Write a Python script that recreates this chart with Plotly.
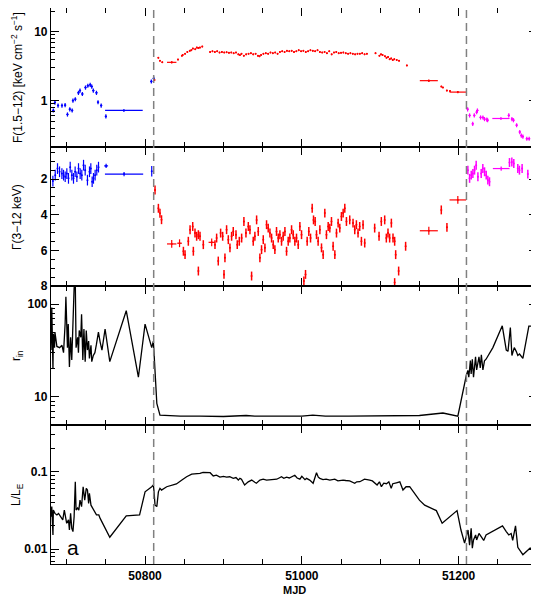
import plotly.graph_objects as go
from plotly.subplots import make_subplots

# ---------------- Panel 1: F(1.5-12) ----------------
f_blue_mjd = [50683, 50685, 50689, 50694, 50698, 50701, 50704, 50707, 50708, 50711, 50715, 50717,
              50720, 50724, 50727, 50730, 50732, 50734, 50738, 50740, 50744, 50750, 50808, 50811]
f_blue_val = [0.72, 0.94, 0.85, 0.85, 0.86, 0.63, 0.75, 0.72, 1.0, 1.05, 1.3, 1.4,
              1.25, 1.55, 1.65, 1.7, 1.6, 1.4, 1.3, 0.95, 0.85, 0.59, 1.9, 2.1]
f_blue_bin_mjd = [50773]
f_blue_bin_val = [0.72]
f_blue_bin_err = [24]

f_red_mjd = [50812, 50817, 50819, 50822, 50842, 50847, 50848, 50851, 50854, 50857, 50859, 50861,
             50864, 50866, 50868, 50870, 50873,
             50883, 50886, 50889, 50892, 50895, 50898, 50901, 50904, 50907, 50910, 50913, 50916,
             50919, 50921, 50923, 50926, 50929, 50932, 50935, 50938, 50941, 50944, 50946, 50948,
             50951, 50954, 50957, 50960, 50963, 50966, 50969, 50972, 50975, 50978, 50981, 50984,
             50987, 50990, 50993, 50996, 50999, 51002, 51005, 51008, 51011, 51014, 51017, 51020,
             51023, 51026, 51029, 51032, 51035, 51038, 51041, 51044, 51047, 51050, 51053, 51056,
             51059, 51062, 51065, 51068, 51071, 51074, 51077, 51080, 51083,
             51094, 51099, 51101, 51103, 51106, 51108, 51110, 51112, 51114, 51116, 51118, 51121,
             51124, 51134, 51178, 51180, 51185, 51189]
f_red_val = [2.0, 4.2, 3.8, 3.6, 3.95, 4.5, 4.6, 4.8, 5.1, 5.3, 5.4, 5.7,
             5.6, 5.9, 5.8, 5.9, 6.1,
             5.1, 5.2, 5.1, 5.2, 5.0, 5.1, 5.0, 5.05, 4.95, 5.0, 4.9, 5.0,
             4.7, 4.6, 4.8, 4.5, 4.7, 4.8, 4.9, 4.7, 4.8, 4.5, 4.4, 4.6,
             4.8, 4.9, 4.8, 5.0, 4.9, 5.0, 4.8, 5.1, 5.2, 5.1, 5.3, 5.2,
             5.3, 5.1, 5.2, 5.4, 5.2, 5.3, 5.1, 5.2, 5.4, 5.3, 5.2, 5.4,
             5.1, 5.0, 5.1, 4.9, 5.2, 4.7, 5.0, 5.1, 4.9, 4.95, 5.0, 4.9,
             4.8, 4.9, 4.8, 4.7, 4.8, 4.8, 4.9, 4.7, 4.8,
             4.9, 4.5, 4.7, 4.6, 4.4, 4.2, 4.3, 4.0, 4.1, 3.9, 4.0, 3.9,
             3.8, 3.25, 1.6, 1.55, 1.4, 1.38]
f_red_bin_mjd = [50834, 51162, 51199]
f_red_bin_val = [3.6, 1.95, 1.33]
f_red_bin_err = [6, 11.5, 10.6]

f_mag_mjd = [51211.5, 51214, 51218, 51220, 51223, 51224, 51228, 51231, 51233, 51236, 51237,
             51264, 51268, 51270, 51274, 51278, 51280, 51282, 51287, 51290]
f_mag_val = [0.75, 0.61, 0.46, 0.61, 0.68, 0.72, 0.57, 0.57, 0.54, 0.53, 0.52,
             0.61, 0.54, 0.52, 0.44, 0.35, 0.31, 0.30, 0.28, 0.28]
f_mag_bin_mjd = [51254]
f_mag_bin_val = [0.55]
f_mag_bin_err = [11]

# ---------------- Panel 2: photon index ----------------
g_blue_mjd = [50682.4, 50685.4, 50688.3, 50690.9, 50693.9, 50696, 50698.1, 50700.2, 50702.3,
              50704.5, 50706.6, 50708.7, 50710.8, 50713, 50715.1, 50717.2, 50719.3, 50721.5,
              50723.6, 50726.5, 50729.1, 50730.8, 50732.5, 50734.2, 50736.3, 50738.4, 50740.6,
              50808.5]
g_blue_val = [2.11, 1.78, 1.41, 1.59, 1.69, 1.78, 1.87, 1.69, 1.96,
              1.33, 1.78, 1.96, 1.59, 1.87, 1.41, 1.69, 1.78, 1.22,
              1.5, 2.06, 1.59, 1.41, 2.15, 1.96, 1.78, 1.5, 1.33,
              1.56]
g_blue_bin_mjd = [50750.3, 50773.2]
g_blue_bin_val = [1.26, 1.72]
g_blue_bin_err = [2.5, 24.4]

g_red_mjd = [50812.7, 50817, 50819, 50821,
             50848.9, 50851, 50855.2, 50857.4, 50860.8, 50861.6, 50863.7, 50865.8, 50868, 50868,
             50870.1, 50874.3, 50889.2, 50891.3, 50893.4, 50896.4, 50899, 50900.7, 50901.9,
             50904, 50906.2, 50908.3, 50910.4, 50912.5, 50916, 50917.6, 50920.2, 50923.2,
             50926.1, 50928.7, 50931.7, 50933.8, 50935.9, 50938, 50940.1, 50942.3, 50944.4,
             50946.5, 50948.6, 50950.8, 50952.9, 50955, 50957.1, 50959.3, 50961.4, 50963.5,
             50965.6, 50967.7, 50969.9, 50972, 50974.1, 50976.2, 50978.4, 50980.5, 50982.6,
             50984.7, 50986.9, 50989, 50991.1, 50993.2, 50995.4, 50997.5, 50999.6, 51002.6,
             51004.7, 51006.8, 51008.9, 51011.1, 51013.2, 51014.9, 51017, 51018.7, 51020.8,
             51023, 51025.1, 51027.2, 51029.3, 51031.4, 51033.6, 51035.7, 51037.8, 51039.9,
             51042.1, 51044.2, 51046.3, 51048.4, 51050.5, 51052.7, 51054.8, 51056.9,
             51061.1, 51065.3, 51067.5, 51069.6, 51071.7, 51073.8, 51076, 51078.1, 51080.2,
             51092.9, 51098.5, 51101.4, 51105.7, 51107.8, 51109.9, 51112, 51114.2, 51116.3,
             51118.4, 51119.7, 51123.5, 51118.4, 51132.4, 51177.9, 51185.1]
g_red_val = [2.61, 3.64, 3.92, 4.28,
             6.05, 6.24, 5.49, 4.84, 4.66, 6.05, 5.03, 5.21, 5.12, 7.16,
             5.21, 5.68, 5.68, 5.31, 6.6, 5.03, 5.21, 7.35, 6.42,
             4.84, 5.4, 5.86, 5.21, 4.94, 5.12, 5.68, 5.49, 5.31,
             4.38, 5.03, 4.66, 4.84, 7.44, 5.49, 5.21, 4.29, 4.94,
             6.42, 5.96, 5.4, 5.86, 4.56, 4.75, 5.03, 5.31, 5.68,
             5.96, 4.94, 5.31, 5.12, 5.49, 5.21, 4.94, 6.05, 5.49,
             5.31, 4.84, 5.12, 5.49, 5.31, 5.68, 4.66, 5.12, 7.72,
             7.35, 5.49, 4.94, 5.31, 3.64, 4.29, 4.38, 5.12, 5.49,
             4.84, 5.86, 6.24, 3.91, 5.12, 4.66, 4.75, 4.38, 5.77,
             6.24, 5.03, 4.47, 4.75, 4.1, 3.91, 3.64, 4.38,
             4.29, 4.47, 4.84, 4.56, 5.03, 4.66, 5.49, 4.56, 5.59,
             4.75, 5.21, 4.38, 4.29, 5.31, 5.03, 5.31, 4.47, 5.31,
             5.49, 6.24, 7.16, 7.81, 5.77, 3.73, 4.71]
g_red_bin_mjd = [50834, 50844, 50885, 51162, 51199]
g_red_bin_val = [5.64, 5.6, 5.55, 4.9, 3.17]
g_red_bin_err = [6, 3, 4, 11.5, 10.6]

g_mag_mjd = [51211.8, 51214, 51216.1, 51218.2, 51220.3, 51222.4, 51224.6, 51228.8, 51230.9,
             51233.1, 51235.2, 51237.3, 51239.4, 51264.9, 51267.9, 51270.4, 51275.5, 51277.6,
             51281, 51288.3]
g_mag_val = [1.5, 1.96, 1.78, 1.69, 1.5, 1.22, 1.87, 1.69, 1.41,
             1.59, 1.78, 2.06, 2.15, 1.07, 1.04, 1.13, 1.41, 1.5,
             1.41, 1.72]
g_mag_bin_mjd = [51254.3]
g_mag_bin_val = [1.41]
g_mag_bin_err = [10.6]

# ---------------- Panel 3: r_in ----------------
r_mjd = [50680, 50681, 50682.5, 50683, 50684.5, 50685, 50687.5, 50691, 50694, 50696, 50698,
         50699, 50701, 50702, 50703.5, 50705, 50706.5, 50708, 50709.5, 50711, 50712, 50714,
         50715, 50716, 50718, 50719, 50720.6, 50722, 50723.6, 50725, 50726.5, 50728, 50729,
         50731, 50732, 50734, 50736, 50738, 50740.5, 50742.7, 50745, 50749, 50755, 50776,
         50791.5, 50800, 50808.5, 50810.6, 50815, 50819, 50845, 50870, 50900, 50929, 50940,
         50970, 51000, 51014, 51030, 51060, 51100, 51150, 51180, 51199, 51209.8, 51211.8,
         51213, 51215, 51216, 51217.5, 51219, 51220, 51221.6, 51223, 51224.6, 51226, 51227.6,
         51229, 51231, 51233, 51235, 51243.7, 51255.7, 51260.8, 51263, 51266, 51268, 51271,
         51273.5, 51275.5, 51277.7, 51282, 51289.6, 51297, 51299]
r_val = [32, 92, 20, 48, 34, 50, 35, 34, 36, 30, 61,
         120, 34, 61, 21, 44, 25, 78, 150, 170, 34, 44,
         30, 52, 44, 78, 25, 54, 24, 52, 32, 40, 26,
         36, 24, 28, 30, 37, 50, 39, 32, 54, 24, 85,
         16.3, 61, 34, 40, 8.5, 6.35, 6.2, 6.2, 6.15, 6.3, 6.2,
         6.2, 6.2, 6.35, 6.2, 6.2, 6.2, 6.3, 6.7, 6.2, 17, 19.3,
         16.3, 24.7, 17.7, 25.5, 16.3, 22, 27, 19.5, 24.5, 27, 20.5,
         28.5, 19.5, 24.5, 25.5, 34, 58.5, 32, 31, 56, 28, 34,
         31, 28, 29, 26, 58, 58, 60]

# ---------------- Panel 4: L/L_E ----------------
l_mjd = [50680, 50681, 50682.5, 50683, 50685, 50687.5, 50689.6, 50692.7, 50695, 50697, 50698.6,
         50700, 50702.3, 50703.5, 50705, 50706.5, 50708, 50709.5, 50711, 50712, 50714, 50715.5,
         50717, 50719, 50721, 50723, 50725, 50726.5, 50728, 50729, 50731, 50733, 50736, 50738,
         50741, 50742.7, 50755, 50776, 50793, 50800, 50808.5, 50810.6, 50811.5, 50812.7, 50815,
         50817, 50819, 50821, 50827.6, 50840, 50847, 50853, 50859.5, 50870, 50874, 50883,
         50887, 50891, 50895.5, 50900, 50904, 50908, 50912.5, 50916, 50919, 50921, 50923,
         50927, 50931.6, 50936, 50940, 50942, 50946.5, 50950.7, 50955, 50959, 50963, 50968,
         50971, 50974, 50977, 50980.5, 50984, 50987, 50991, 50994, 50997.5, 51000, 51001.7,
         51004, 51006, 51010, 51014.4, 51018.7, 51021, 51023, 51027, 51031, 51035.7, 51040,
         51042, 51046, 51052.6, 51056, 51061, 51067.5, 51070, 51074, 51080, 51086.6, 51090,
         51096, 51099, 51101.5, 51104.5, 51108, 51111, 51114, 51116, 51120.6, 51125, 51129,
         51133, 51137.6, 51142, 51150, 51156.7, 51171.6, 51179, 51188.5, 51198, 51203,
         51207.6, 51209.8, 51212, 51214, 51216, 51217.5, 51219, 51221.7, 51223, 51226, 51229,
         51232, 51235, 51256, 51260.8, 51264, 51267, 51269, 51272.6, 51275.5, 51282, 51286,
         51291, 51299]
l_val = [0.0263, 0.0355, 0.0153, 0.032, 0.029, 0.0277, 0.029, 0.0263, 0.0239, 0.032, 0.025,
         0.0216, 0.0239, 0.0177, 0.029, 0.0186, 0.0169, 0.0263, 0.0743, 0.032, 0.034, 0.032,
         0.043, 0.0355, 0.064, 0.043, 0.061, 0.058, 0.039, 0.0526, 0.037, 0.034, 0.029, 0.0277,
         0.0277, 0.025, 0.0143, 0.0269, 0.0277, 0.055, 0.064, 0.0675, 0.055, 0.037, 0.0355,
         0.055, 0.061, 0.058, 0.064, 0.0695, 0.078, 0.086, 0.093, 0.095, 0.098, 0.097,
         0.088, 0.09, 0.085, 0.087, 0.085, 0.086, 0.082, 0.084, 0.078, 0.082, 0.08,
         0.0675, 0.074, 0.078, 0.073, 0.071, 0.078, 0.08, 0.078, 0.079, 0.08, 0.08,
         0.083, 0.086, 0.082, 0.085, 0.083, 0.086, 0.09, 0.083, 0.08, 0.087, 0.084,
         0.079, 0.082, 0.078, 0.071, 0.097, 0.085, 0.082, 0.079, 0.08, 0.078, 0.08,
         0.08, 0.076, 0.078, 0.077, 0.076, 0.071, 0.074, 0.0743, 0.08, 0.078, 0.076,
         0.0675, 0.074, 0.064, 0.071, 0.07, 0.074, 0.061, 0.07, 0.072, 0.074, 0.058,
         0.064, 0.064, 0.055, 0.043, 0.037, 0.0315, 0.0216, 0.0263, 0.0315, 0.0177,
         0.012, 0.0146, 0.0177, 0.0113, 0.0186, 0.0103, 0.0132, 0.0153, 0.0132, 0.016, 0.0146,
         0.013, 0.0153, 0.02, 0.0169, 0.0153, 0.016, 0.013, 0.02, 0.0106, 0.0085, 0.0093,
         0.0103, 0.0103]

state_change_mjd = [50811, 51210]
x_major_ticks = [50800, 51000, 51200]
x_major_labels = ["50800", "51000", "51200"]

BLUE, RED, MAG = "#0000ff", "#ff0000", "#ff00ff"
FONT = "Liberation Sans"

fig = make_subplots(rows=4, cols=1, shared_xaxes=True, vertical_spacing=0)


def pts(x, y, color, row, yerr_type, yerr, xerr, size=2, thick=1.2, clip=True):
    ey = dict(type=yerr_type, value=yerr, color=color, thickness=thick, width=0)
    if isinstance(xerr, list):
        ex = dict(type="data", array=xerr, color=color, thickness=thick, width=0)
    else:
        ex = dict(type="constant", value=xerr, color=color, thickness=thick, width=0)
    fig.add_trace(go.Scatter(x=x, y=y, mode="markers",
                             marker=dict(color=color, size=size),
                             error_y=ey, error_x=ex, cliponaxis=clip,
                             showlegend=False, hoverinfo="x+y"), row=row, col=1)


# panel 1
pts(f_blue_mjd, f_blue_val, BLUE, 1, "percent", 7, 1.4)
pts(f_blue_bin_mjd, f_blue_bin_val, BLUE, 1, "percent", 4, f_blue_bin_err)
pts(f_red_mjd, f_red_val, RED, 1, "percent", 2.5, 0.8)
pts(f_red_bin_mjd, f_red_bin_val, RED, 1, "percent", 4, f_red_bin_err)
pts(f_mag_mjd, f_mag_val, MAG, 1, "percent", 7, 1.4)
pts(f_mag_bin_mjd, f_mag_bin_val, MAG, 1, "percent", 4, f_mag_bin_err)
# panel 2
pts(g_blue_mjd, g_blue_val, BLUE, 2, "constant", 0.3, 0.4)
pts(g_blue_bin_mjd, g_blue_bin_val, BLUE, 2, "constant", 0.12, g_blue_bin_err)
pts(g_red_mjd, g_red_val, RED, 2, "constant", 0.25, 0.3, thick=1.5, clip=False)
pts(g_red_bin_mjd, g_red_bin_val, RED, 2, "constant", 0.22, g_red_bin_err)
pts(g_mag_mjd, g_mag_val, MAG, 2, "constant", 0.25, 0.4, thick=1.5)
pts(g_mag_bin_mjd, g_mag_bin_val, MAG, 2, "constant", 0.12, g_mag_bin_err)
# panel 3
fig.add_trace(go.Scatter(x=r_mjd, y=r_val, mode="lines", line=dict(color="black", width=1.3),
                         showlegend=False), row=3, col=1)
# panel 4
fig.add_trace(go.Scatter(x=l_mjd, y=l_val, mode="lines", line=dict(color="black", width=1.3),
                         showlegend=False), row=4, col=1)

tickfont = dict(family=FONT, size=12, color="black", weight="bold")
common_axis = dict(showline=True, linecolor="black", linewidth=1.2, mirror="ticks",
                   ticks="inside", tickcolor="black", tickwidth=1.2, showgrid=False,
                   zeroline=False, tickfont=tickfont, automargin=False)

for i in range(1, 5):
    fig.update_xaxes(row=i, col=1, range=[50680, 51300], tickmode="array", tickvals=x_major_ticks,
                     ticktext=x_major_labels, ticklen=8, showticklabels=(i == 4),
                     minor=dict(ticks="inside", ticklen=5, dtick=50, tick0=50650,
                                tickcolor="black", tickwidth=1.2, showgrid=False),
                     **common_axis)

log_minor = dict(ticks="inside", ticklen=4, tickcolor="black", tickwidth=1.2, showgrid=False,
                 tickmode="array")
fig.update_yaxes(row=1, col=1, type="log", range=[-0.674, 1.346], tickmode="array",
                 tickvals=[1, 10], ticktext=["1", "10"], ticklen=8,
                 minor=dict(tickvals=[0.3, 0.4, 0.5, 0.6, 0.7, 0.8, 0.9, 2, 3, 4, 5, 6, 7, 8, 9, 20],
                            **log_minor), **common_axis)
fig.update_yaxes(row=2, col=1, range=[8, 0.2], tickmode="array", tickvals=[2, 4, 6, 8],
                 ticktext=["2", "4", "6", "8"], ticklen=8,
                 minor=dict(ticks="inside", ticklen=4, dtick=0.5, tick0=0, tickcolor="black",
                            tickwidth=1.2, showgrid=False), **common_axis)
fig.update_yaxes(row=3, col=1, type="log", range=[0.697, 2.196], tickmode="array",
                 tickvals=[10, 100], ticktext=["10", "100"], ticklen=8,
                 minor=dict(tickvals=[6, 7, 8, 9, 20, 30, 40, 50, 60, 70, 80, 90],
                            **log_minor), **common_axis)
fig.update_yaxes(row=4, col=1, type="log", range=[-2.19, -0.398], tickmode="array",
                 tickvals=[0.01, 0.1], ticktext=["0.01", "0.1"], ticklen=8,
                 minor=dict(tickvals=[0.007, 0.008, 0.009, 0.02, 0.03, 0.04, 0.05, 0.06, 0.07,
                                      0.08, 0.09, 0.2, 0.3],
                            **log_minor), **common_axis)

for xm in state_change_mjd:
    fig.add_shape(type="line", xref="x", yref="paper", x0=xm, x1=xm, y0=0, y1=1,
                  line=dict(color="#808080", width=1.5, dash="8px,5px"))

tfont = dict(family=FONT, size=12, color="black")
titles = [("F(1.5−12) [keV cm<sup>−2</sup> s<sup>−1</sup>]", 0.875),
          ("Γ(3−12 keV)", 0.625),
          ("r<sub>in</sub>", 0.375),
          ("L/L<sub>E</sub>", 0.125)]
for txt, yy in titles:
    fig.add_annotation(text=txt, xref="paper", yref="paper", x=-0.071, y=yy, textangle=-90,
                       showarrow=False, font=tfont, xanchor="center", yanchor="middle")
fig.add_annotation(text="MJD", xref="paper", yref="paper", x=0.5, y=-0.047, showarrow=False,
                   font=dict(family=FONT, size=11, color="black", weight="bold"),
                   xanchor="center", yanchor="middle")
fig.add_annotation(text="a", xref="paper", yref="paper", x=0.045, y=0.029, showarrow=False,
                   font=dict(family=FONT, size=21, color="black"), xanchor="center",
                   yanchor="middle")

# The page body adds an 8 px offset, so the figure is sized to fill the rest of the window.
fig.update_layout(width=531, height=591, margin=dict(l=43, r=2, t=0, b=35),
                  paper_bgcolor="white", plot_bgcolor="white")
fig.write_html("out.html")
